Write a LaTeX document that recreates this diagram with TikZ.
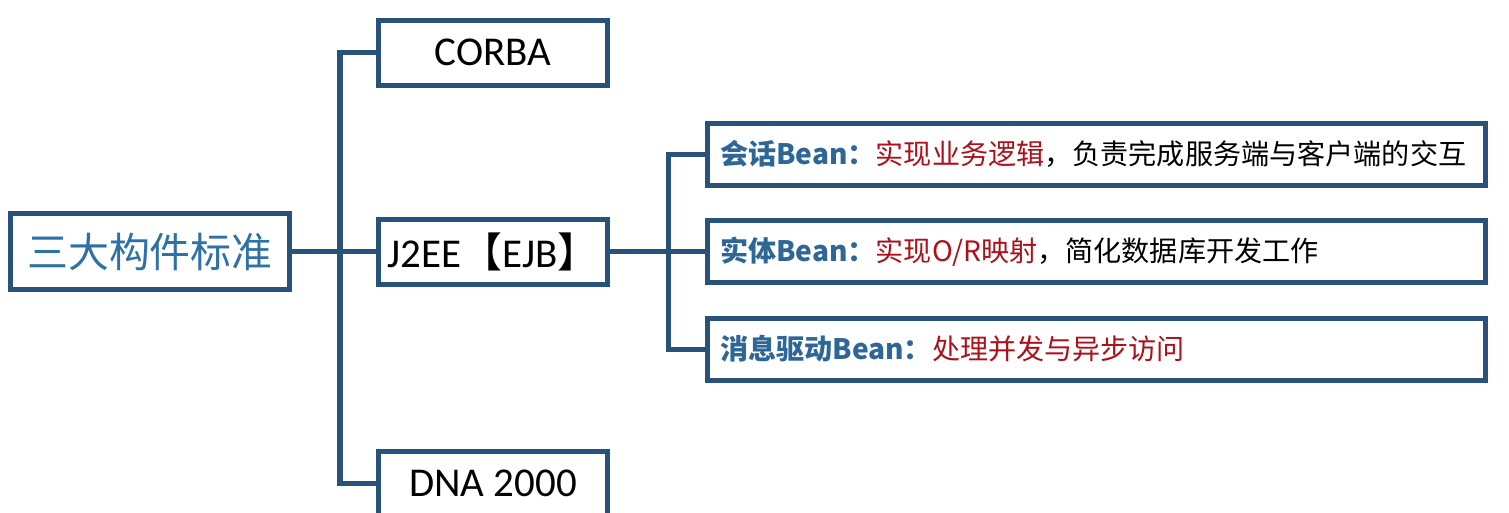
\documentclass[tikz,border=0pt]{standalone}
\usepackage{fontspec}
\setmainfont{Carlito}
\newfontfamily\cjk{Noto Sans CJK SC}
\usetikzlibrary{positioning}
\definecolor{boxblue}{RGB}{41,82,122}
\definecolor{rootblue}{RGB}{46,112,168}
\definecolor{beanblue}{RGB}{46,102,152}
\definecolor{beanred}{RGB}{172,16,26}
\tikzset{root node/.style={shape=rectangle,
    draw=boxblue, line width=0.1cm, outer sep=0pt, inner sep=0pt,
    minimum width=5.58cm, minimum height=1.52cm,
    font=\cjk\fontsize{23.3}{28}\selectfont, text=rootblue}}
\tikzset{std node/.style={shape=rectangle,
    draw=boxblue, line width=0.1cm, outer sep=0pt, inner sep=0pt,
    minimum width=4.58cm, minimum height=1.3cm,
    font=\fontsize{23.3}{28}\selectfont}}
\tikzset{bean node/.style={shape=rectangle,
    draw=boxblue, line width=0.1cm, outer sep=0pt,
    inner xsep=0.25cm, inner ysep=0pt, text width=15.06cm, align=left,
    minimum height=1.24cm,
    font=\cjk\fontsize{16}{20}\selectfont}}
\tikzset{conn/.style={draw=boxblue, line width=0.1cm}}
\newcommand{\beanlabel}[1]{{\bfseries\color{beanblue}#1}}
\newcommand{\beanred}[1]{{\color{beanred}#1}}

\begin{document}
\begin{tikzpicture}
    \useasboundingbox (-3.0,-5.21) rectangle (27.18,5.03);
    \node[root node] (1) {三大构件标准};
    \node[std node] (3) [right = 1.78cm of 1] {J2EE{\cjk 【}EJB{\cjk 】}};
    \node[std node] (2) [above = 2.68cm of 3] {CORBA};
    \node[std node] (4) [below = 3.34cm of 3] {DNA 2000};

    \node[bean node] (6) [right = 2cm of 3] {\beanlabel{实体Bean：}\beanred{实现O/R映射}，简化数据库开发工作};
    \node[bean node] (5) [above = 0.71cm of 6] {\beanlabel{会话Bean：}\beanred{实现业务逻辑}，负责完成服务端与客户端的交互};
    \node[bean node] (7) [below = 0.71cm of 6] {\beanlabel{消息驱动Bean：}\beanred{处理并发与异步访问}};

    \coordinate[left = 0.77cm of 3.west] (8);
    \coordinate[left = 0.79cm of 6.west] (9);

    \path[conn]
    (1) -- (3)
    (2.west) -| (8) |- (4.west)

    (3) -- (6)
    (5.west) -| (9) |- (7.west)
    ;
\end{tikzpicture}
\end{document}
